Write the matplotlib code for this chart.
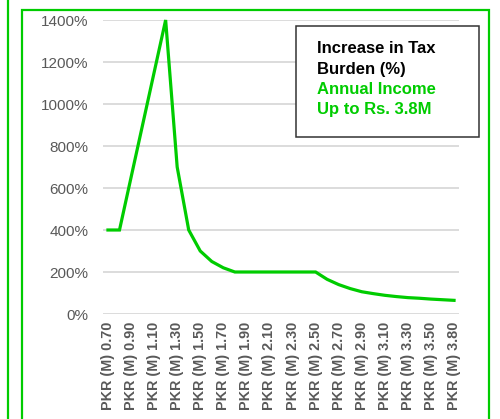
import matplotlib
matplotlib.use("Agg")
import matplotlib.pyplot as plt
from matplotlib.lines import Line2D
from matplotlib.patches import Rectangle

plt.rcParams['font.family'] = ['Liberation Sans', 'DejaVu Sans']

incomes = ["0.70", "0.80", "0.90", "1.00", "1.10", "1.20", "1.30", "1.40", "1.50", "1.60",
           "1.70", "1.80", "1.90", "2.00", "2.10", "2.20", "2.30", "2.40", "2.50", "2.60",
           "2.70", "2.80", "2.90", "3.00", "3.10", "3.20", "3.30", "3.40", "3.50", "3.60",
           "3.80"]
increase_pct = [400, 400, 650, 900, 1150, 1400, 700, 400, 300, 250,
                220, 200, 200, 200, 200, 200, 200, 200, 200, 165,
                140, 121, 106, 97, 89, 83, 78, 75, 71, 68,
                65]
yticks = [0, 200, 400, 600, 800, 1000, 1200, 1400]
title_lines = ["Increase in Tax", "Burden (%)"]
sub_lines = ["Annual Income", "Up to Rs. 3.8M"]

W, H = 500, 419
fig = plt.figure(figsize=(W / 100, H / 100), dpi=100)

def fx(px):
    return px / W

def fy(py):
    return 1 - py / H

green = '#00CC00'
ax = fig.add_axes([fx(103), fy(314), fx(459) - fx(103), fy(20) - fy(314)])
x = list(range(len(incomes)))
ax.plot(x, increase_pct, color=green, lw=2.3, solid_joinstyle='miter', zorder=3, clip_on=False)
ax.set_xlim(-0.43, len(incomes) - 1 + 0.43)
ax.set_ylim(0, 1400)
ax.set_yticks(yticks)
ax.set_yticklabels([f"{v}%" for v in yticks], fontsize=11, color='#595959')
ax.set_xticks(x[::2])
ax.set_xticklabels(["PKR (M) " + incomes[i] for i in x[::2]], rotation=90,
                   fontsize=10.4, fontweight='bold', color='#595959')
ax.tick_params(axis='y', length=0, pad=10.5)
ax.tick_params(axis='x', length=0, pad=5.5)
for s in ax.spines.values():
    s.set_visible(False)
ax.grid(axis='y', color='#D9D9D9', lw=1.3, zorder=0)
ax.set_axisbelow(True)

# frames
fig.add_artist(Line2D([fx(8), fx(8)], [0, 1], color=green, lw=1.6, transform=fig.transFigure))
fig.add_artist(Line2D([fx(22), fx(22), fx(489), fx(489)], [0, fy(10), fy(10), 0],
                      color=green, lw=1.6, transform=fig.transFigure, solid_joinstyle='miter'))

# legend box
fig.add_artist(Rectangle((fx(296), fy(137)), fx(479) - fx(296), fy(26) - fy(137),
                         facecolor='white', edgecolor='#333333', lw=1.1,
                         transform=fig.transFigure, zorder=5))
baselines = [53, 74, 94, 114]
for i, t in enumerate(title_lines):
    fig.text(fx(317), fy(baselines[i]), t, fontsize=12, fontweight='bold', color='black',
             va='baseline', ha='left', zorder=6)
for i, t in enumerate(sub_lines):
    fig.text(fx(317), fy(baselines[i + 2]), t, fontsize=12, fontweight='bold', color=green,
             va='baseline', ha='left', zorder=6)

fig.savefig('out.png', dpi=100)
